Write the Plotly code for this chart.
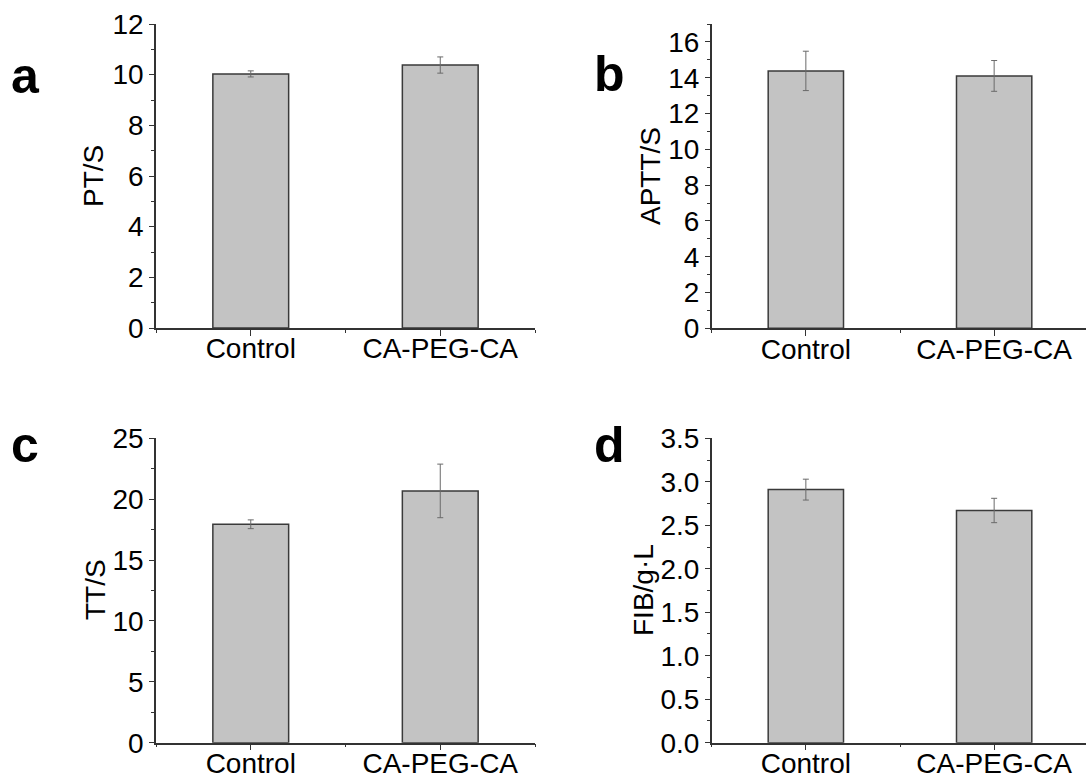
import plotly.graph_objects as go

W, H = 1086, 783

categories = ["Control", "CA-PEG-CA"]
cat_pos = [1, 2]

pt_mean = [10.03, 10.38]
pt_err = [0.12, 0.32]

aptt_mean = [14.38, 14.10]
aptt_err = [1.10, 0.86]

tt_mean = [17.94, 20.68]
tt_err = [0.36, 2.20]

fib_mean = [2.91, 2.67]
fib_err = [0.12, 0.14]

panels = [
    dict(letter="a", title="PT/S", mean=pt_mean, err=pt_err, yrange=[0, 12], dtick=2, minor=1,
         px_x=(156, 535), px_y=(24, 328), xr=[0.5, 2.5], tfmt=None),
    dict(letter="b", title="APTT/S", mean=aptt_mean, err=aptt_err, yrange=[0, 17], dtick=2, minor=1,
         px_x=(711.7, 1086), px_y=(24, 328.3), xr=[0.5, 0.5 + (1086 - 711.7) / 188.3], tfmt=None),
    dict(letter="c", title="TT/S", mean=tt_mean, err=tt_err, yrange=[0, 25], dtick=5, minor=2.5,
         px_x=(156, 535), px_y=(438.3, 742.7), xr=[0.5, 2.5], tfmt=None),
    dict(letter="d", title="FIB/g·L", mean=fib_mean, err=fib_err, yrange=[0, 3.5], dtick=0.5, minor=0.25,
         px_x=(711.7, 1086), px_y=(438.3, 742.7), xr=[0.5, 0.5 + (1086 - 711.7) / 188.3], tfmt=".1f"),
]

letter_pos = {"a": (25.5, 76), "b": (609.5, 74.5), "c": (25.0, 445), "d": (609.5, 444.5)}
title_pos = {"a": (94, 176), "b": (651, 176), "c": (95, 590), "d": (643, 590)}

FONT = "Liberation Sans, Arial, sans-serif"
AXC = "#333333"

fig = go.Figure()
annotations = []
layout = dict(
    template="none",
    width=W, height=H,
    margin=dict(l=0, r=0, t=0, b=0, pad=0),
    paper_bgcolor="white", plot_bgcolor="white",
    showlegend=False,
    font=dict(family=FONT, size=28, color="black"),
)

for i, p in enumerate(panels, start=1):
    xa = "x" if i == 1 else f"x{i}"
    ya = "y" if i == 1 else f"y{i}"
    fig.add_trace(go.Bar(
        x=cat_pos, y=p["mean"], width=0.4,
        marker=dict(color="#c3c3c3", line=dict(color="#3a3a3a", width=1.5)),
        error_y=dict(type="data", array=p["err"], visible=True, color="#6a6a6a", thickness=1, width=3),
        xaxis=xa, yaxis=ya,
    ))
    x0, x1 = p["px_x"]
    ytop, ybot = p["px_y"]
    xkey = "xaxis" if i == 1 else f"xaxis{i}"
    ykey = "yaxis" if i == 1 else f"yaxis{i}"
    layout[xkey] = dict(
        domain=[x0 / W, x1 / W], range=p["xr"], anchor=ya, automargin=False,
        tickvals=cat_pos, ticktext=categories, ticklabelstandoff=-11,
        showline=True, linecolor=AXC, linewidth=1.5,
        ticks="outside", ticklen=6, tickwidth=1.2, tickcolor=AXC,
        showgrid=False, zeroline=False, fixedrange=True,
        tickfont=dict(size=28, family=FONT, color="black"),
        minor=dict(tickvals=[0.5, 1.5, 2.5], ticks="outside", ticklen=3, tickwidth=1, tickcolor=AXC, showgrid=False),
    )
    ydict = dict(
        domain=[1 - ybot / H, 1 - ytop / H], range=p["yrange"], anchor=xa, automargin=False,
        dtick=p["dtick"], tick0=0,
        showline=True, linecolor=AXC, linewidth=1.5,
        ticks="outside", ticklen=5, tickwidth=1.2, tickcolor=AXC,
        showgrid=False, zeroline=False, fixedrange=True,
        tickfont=dict(size=28, family=FONT, color="black"),
        minor=dict(dtick=p["minor"], ticks="outside", ticklen=3, tickwidth=1, tickcolor=AXC, showgrid=False),
    )
    if p["tfmt"]:
        ydict["tickformat"] = p["tfmt"]
    layout[ykey] = ydict

    lx, ly = letter_pos[p["letter"]]
    annotations.append(dict(
        text=f"<b>{p['letter']}</b>", x=lx / W, y=1 - ly / H, xref="paper", yref="paper",
        xanchor="center", yanchor="middle", showarrow=False,
        font=dict(size=50, family=FONT, color="black"),
    ))
    tx, ty = title_pos[p["letter"]]
    annotations.append(dict(
        text=p["title"], x=tx / W, y=1 - ty / H, xref="paper", yref="paper",
        xanchor="center", yanchor="middle", showarrow=False, textangle=-90,
        font=dict(size=28, family=FONT, color="black"),
    ))

layout["annotations"] = annotations
fig.update_layout(**layout)
fig.write_html("out.html")
